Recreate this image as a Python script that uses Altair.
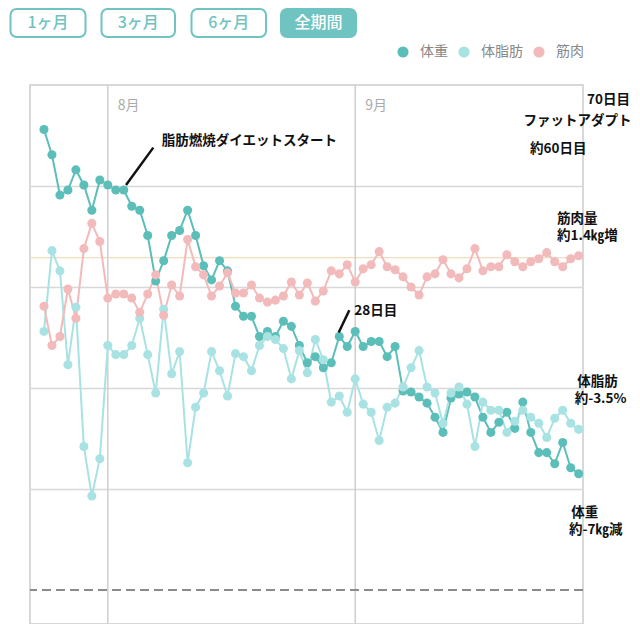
import altair as alt
import pandas as pd

# ---------------- data ----------------
start_date = "2023-07-24"
n_days = 68
series_names = ["体重", "体脂肪", "筋肉"]

weight = [4.56, 4.31, 3.91, 3.96, 4.16, 4.01, 3.76, 4.06, 4.01, 3.96,
          3.96, 3.80, 3.76, 3.51, 3.06, 3.26, 3.51, 3.56, 3.76, 3.51,
          3.21, 3.07, 3.26, 3.16, 2.81, 2.71, 2.71, 2.51, 2.56, 2.51,
          2.66, 2.61, 2.42, 2.25, 2.31, 2.20, 2.25, 2.51, 2.41, 2.56,
          2.41, 2.46, 2.46, 2.31, 2.41, 1.97, 1.96, 1.91, 1.85, 1.71,
          1.56, 1.90, 1.94, 1.96, 1.91, 1.71, 1.56, 1.66, 1.76, 1.60,
          1.86, 1.56, 1.36, 1.36, 1.25, 1.46, 1.21, 1.15]

body_fat = [2.56, 3.36, 3.16, 2.23, 2.80, 1.42, 0.93, 1.30, 2.42, 2.33,
            2.33, 2.42, 2.69, 2.33, 1.95, 2.78, 2.14, 2.36, 1.26, 1.81,
            1.95, 2.36, 2.17, 1.92, 2.34, 2.31, 2.17, 2.42, 2.51, 2.48,
            2.39, 2.09, 2.37, 2.15, 2.48, 2.28, 1.86, 1.92, 1.76, 2.09,
            1.84, 1.76, 1.48, 1.81, 1.85, 2.01, 2.20, 2.37, 2.01, 1.95,
            1.65, 1.95, 2.01, 1.84, 1.42, 1.86, 1.78, 1.78, 1.56, 1.67,
            1.78, 1.71, 1.65, 1.51, 1.70, 1.78, 1.65, 1.59]

muscle = [2.81, 2.42, 2.51, 2.98, 2.69, 3.38, 3.63, 3.45, 2.89, 2.93,
          2.93, 2.89, 2.75, 2.93, 3.12, 2.72, 3.02, 2.91, 3.47, 3.20,
          3.12, 2.91, 3.01, 3.14, 2.94, 2.94, 3.02, 2.89, 2.85, 2.87,
          2.91, 3.05, 2.92, 3.04, 2.86, 2.96, 3.16, 3.13, 3.22, 3.05,
          3.18, 3.22, 3.35, 3.20, 3.17, 3.10, 3.00, 2.92, 3.10, 3.13,
          3.27, 3.13, 3.09, 3.18, 3.38, 3.16, 3.20, 3.20, 3.32, 3.25,
          3.20, 3.25, 3.28, 3.34, 3.25, 3.20, 3.28, 3.31]

month_dates = ["2023-08-01", "2023-09-01"]
month_labels = ["8月", "9月"]

reference_values = [0.0, 3.29]          # dashed target, muscle reference
button_labels = ["1ヶ月", "3ヶ月", "6ヶ月", "全期間"]
button_selected = [False, False, False, True]

# annotations: (day offset from start, value, text)
notes_left = [
    (68.05, 4.85, "70日目"),
    (60.10, 4.64, "ファットアダプト"),
    (60.90, 4.37, "約60日目"),
    (14.75, 4.45, "脂肪燃焼ダイエットスタート"),
    (64.29, 3.67, "筋肉量"),
    (64.29, 3.50, "約1.4㎏増"),
    (38.89, 2.76, "28日目"),
]
notes_center = [
    (69.36, 2.06, "体脂肪"),
    (69.74, 1.895, "約-3.5%"),
    (67.77, 0.76, "体重"),
    (69.15, 0.595, "約-7㎏減"),
]
callouts = [  # (day1, value1, day2, value2)
    (10.28, 4.01, 13.70, 4.38),
    (36.93, 2.55, 38.26, 2.77),
]

# ---------------- styles / layout ----------------
colors = ["#5cbeb9", "#a8e2e2", "#f2baba"]
teal_btn = "#6fc3c0"
FONT = "Noto Sans CJK JP"
NOTE_SIZE = 13.5
PW, PH = 553, 539
button_x = [(-19.5, 55.5), (71.5, 145.0), (161.5, 236.0), (251.0, 326.0)]

# ---------------- build tables ----------------
t0 = pd.Timestamp(start_date, tz="UTC")
fmt = "%Y-%m-%dT%H:%M:%SZ"
dates = [(t0 + pd.Timedelta(days=i)).strftime(fmt) for i in range(n_days)]

rows = []
for name, vals in zip(series_names, [weight, body_fat, muscle]):
    for d, v in zip(dates, vals):
        rows.append({"date": d, "value": v, "series": name})
df = pd.DataFrame(rows)

def day_to_iso(day):
    return (t0 + pd.Timedelta(days=day)).strftime(fmt)

months_df = pd.DataFrame({"date": [pd.Timestamp(m, tz="UTC").strftime(fmt) for m in month_dates],
                          "label": month_labels})
left_df = pd.DataFrame([{"date": day_to_iso(d), "value": v, "text": t} for d, v, t in notes_left])
center_df = pd.DataFrame([{"date": day_to_iso(d), "value": v, "text": t} for d, v, t in notes_center])
call_df = pd.DataFrame([{"date": day_to_iso(a), "value": b, "date2": day_to_iso(c), "value2": e}
                        for a, b, c, e in callouts])
btn_df = pd.DataFrame({"label": button_labels, "sel": button_selected,
                       "x0": [b[0] for b in button_x], "x1": [b[1] for b in button_x],
                       "xm": [(b[0] + b[1]) / 2 for b in button_x]})

xscale = alt.Scale(type="utc",
                   domain=[alt.DateTime(year=2023, month=7, date=22, hours=6, utc=True),
                           alt.DateTime(year=2023, month=9, date=29, hours=13, utc=True)])
yscale = alt.Scale(domain=[-0.337, 5.0], nice=False, zero=False)

X = alt.X("date:T", scale=xscale, axis=None)
Y = alt.Y("value:Q", scale=yscale,
          axis=alt.Axis(values=[1, 2, 3, 4], grid=True, labels=False, ticks=False,
                        domain=False, title=None, gridColor="#d8d8d8", gridWidth=1.3))
cscale = alt.Scale(domain=series_names, range=colors)

base = alt.Chart(df)

line_layers = [
    base.transform_filter(alt.datum.series == name)
        .mark_line(strokeWidth=2, color=col)
        .encode(x=X, y=Y)
    for name, col in zip(series_names, colors)
]

points = base.mark_circle(size=82, opacity=1).encode(
    x=X, y=Y,
    color=alt.Color("series:N", scale=cscale, sort=series_names,
                    legend=alt.Legend(title=None, orient="none", direction="horizontal",
                                      legendX=366, legendY=-40, symbolType="circle",
                                      symbolSize=125, labelFontSize=14, labelColor="#888888",
                                      labelOffset=10, columnPadding=9, padding=0,
                                      symbolOpacity=1, labelFont=FONT)))

month_rules = alt.Chart(months_df).mark_rule(color="#cfcfcf", strokeWidth=1.5).encode(
    x=alt.X("date:T", scale=xscale, axis=None))
month_text = alt.Chart(months_df).mark_text(align="left", baseline="middle", dx=10,
                                            fontSize=14, color="#aaaaaa").encode(
    x=alt.X("date:T", scale=xscale, axis=None), y=alt.value(21), text="label:N")

ref_df = pd.DataFrame({"value": reference_values, "kind": ["target", "muscle"]})
dash_rule = alt.Chart(ref_df).transform_filter(alt.datum.kind == "target").mark_rule(
    color="#8a8a8a", strokeWidth=2, strokeDash=[9, 5]).encode(y=alt.Y("value:Q", scale=yscale))
orange_rule = alt.Chart(ref_df).transform_filter(alt.datum.kind == "muscle").mark_rule(
    color="#f3dcc0", strokeWidth=1.3).encode(y=alt.Y("value:Q", scale=yscale))

call_rules = alt.Chart(call_df).mark_rule(color="#111111", strokeWidth=2.5).encode(
    x=alt.X("date:T", scale=xscale, axis=None), x2="date2:T",
    y=alt.Y("value:Q", scale=yscale), y2="value2:Q")

text_left = alt.Chart(left_df).mark_text(align="left", baseline="middle", fontSize=NOTE_SIZE,
                                         fontWeight="bold", color="#111111").encode(
    x=alt.X("date:T", scale=xscale, axis=None), y=alt.Y("value:Q", scale=yscale), text="text:N")
text_center = alt.Chart(center_df).mark_text(align="center", baseline="middle", fontSize=NOTE_SIZE,
                                             fontWeight="bold", color="#111111").encode(
    x=alt.X("date:T", scale=xscale, axis=None), y=alt.Y("value:Q", scale=yscale), text="text:N")

btn_rect = alt.Chart(btn_df).mark_rect(cornerRadius=6, strokeWidth=2, stroke=teal_btn).encode(
    x=alt.X("x0:Q", scale=None), x2="x1:Q", y=alt.value(-76), y2=alt.value(-48),
    fill=alt.condition(alt.datum.sel, alt.value(teal_btn), alt.value("white")))
btn_text = alt.Chart(btn_df).mark_text(fontSize=16, align="center", baseline="middle",
                                       fontWeight=500).encode(
    x=alt.X("xm:Q", scale=None), y=alt.value(-62), text="label:N",
    color=alt.condition(alt.datum.sel, alt.value("white"), alt.value(teal_btn)))

chart = alt.layer(
    orange_rule, month_rules, dash_rule, month_text,
    *line_layers, points, call_rules, text_left, text_center, btn_rect, btn_text
).properties(
    width=PW, height=PH,
    padding={"left": 22, "top": 77, "right": 49, "bottom": 0},
    autosize=alt.AutoSizeParams(type="none"),
).configure(font=FONT).configure_view(stroke="#cccccc", strokeWidth=1.5)

chart.save("out.html", embed_options={"renderer": "svg", "actions": False})
